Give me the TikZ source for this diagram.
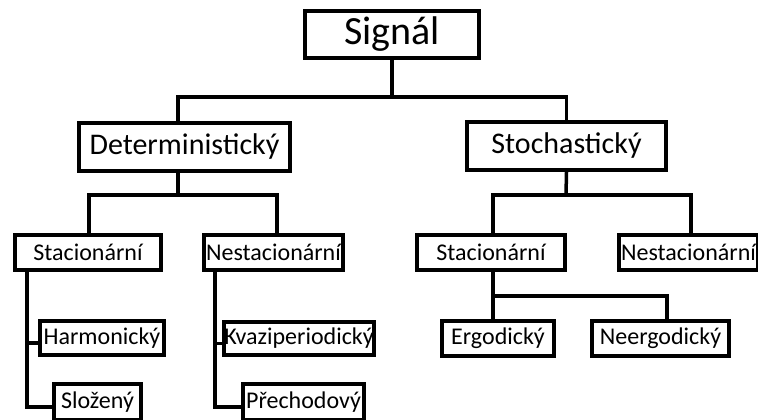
\documentclass[tikz,border=0pt]{standalone}
\usepackage{fontspec}
\setmainfont{Carlito}
\begin{document}
\begin{tikzpicture}[x=1pt,y=-1pt,
  box/.style={draw, line width=4pt, inner sep=0pt, anchor=center},
  wh/.style 2 args={minimum width=#1pt-4pt, minimum height=#2pt-4pt},
  wire/.style={line width=3.5pt},
  lvla/.style={font=\fontsize{40}{44}\selectfont},
  lvlb/.style={font=\fontsize{30}{34}\selectfont},
  lvlc/.style={font=\fontsize{24}{28}\selectfont}]
\clip (0,0) rectangle (758,420);
\useasboundingbox (0,0) rectangle (758,420);

% root
\node[box,lvla,wh={178}{51}] (sig) at (392,34.5) {Signál};

% first level
\node[box,lvlb,wh={215}{52}] (det) at (184.5,147) {Deterministický};
\node[box,lvlb,wh={203}{52}] (sto) at (566.5,146) {Stochastický};

% second level
\node[box,lvlc,wh={150}{39}] (dsta) at (88,252.5) {Stacionární};
\node[box,lvlc,wh={143}{39}] (dnes) at (273.5,252.5) {Nestacionární};
\node[box,lvlc,wh={152}{39}] (ssta) at (491,252.5) {Stacionární};
\node[box,lvlc,wh={143}{39}] (snes) at (688.5,252.5) {Nestacionární};

% leaves
\node[box,lvlc,wh={128}{38}] (harm) at (102,338) {Harmonický};
\node[box,lvlc,wh={91}{40}] (slo) at (97.5,402) {Složený};
\node[box,lvlc,wh={144}{37}] (kva) at (299,338.5) {Kvaziperiodický};
\node[box,lvlc,wh={125}{40}] (pre) at (303.5,402) {Přechodový};
\node[box,lvlc,wh={116}{39}] (erg) at (498,338.5) {Ergodický};
\node[box,lvlc,wh={141}{39}] (neer) at (660.5,338.5) {Neergodický};

% junction points of the bus lines
\coordinate (j0) at (392,97);
\coordinate (j1) at (178,195);
\coordinate (j2) at (566,195);
\coordinate (j3) at (493,296);

% connectors
\draw[wire] (sig.south) -- (j0);
\draw[wire] ([xshift=-6.5pt]det.north) |- (j0) -| (sto.north);

\draw[wire] ([xshift=-6.5pt]det.south) -- (j1);
\draw[wire] ([xshift=1pt]dsta.north) |- (j1) -| ([xshift=3.5pt]dnes.north);

\draw[wire] (sto.south) -- (j2);
\draw[wire] ([xshift=2pt]ssta.north) |- (j2) -| ([xshift=2.5pt]snes.north);

\draw[wire] ([xshift=2pt]ssta.south) -- ([xshift=-5pt]erg.north);
\draw[wire] (j3) -| ([xshift=6.5pt]neer.north);

\draw[wire] ([xshift=14pt]dsta.south west) |- ([yshift=-5pt]slo.west);
\draw[wire] ([xshift=14pt,yshift=-5pt]harm.west -| dsta.south west) -- ([yshift=-5pt]harm.west);

\draw[wire] ([xshift=13pt]dnes.south west) |- ([yshift=-5pt]pre.west);
\draw[wire] ([xshift=13pt,yshift=-5pt]kva.west -| dnes.south west) -- ([yshift=-5pt]kva.west);
\end{tikzpicture}
\end{document}
